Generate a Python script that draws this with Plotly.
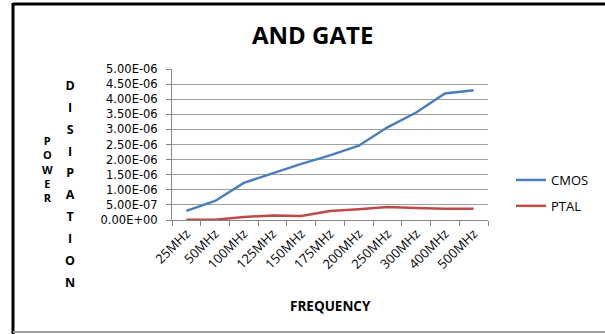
import plotly.graph_objects as go

categories = ["25MHz", "50MHz", "100MHz", "125MHz", "150MHz", "175MHz",
              "200MHz", "250MHz", "300MHz", "400MHz", "500MHz"]
cmos = [0.30e-6, 0.63e-6, 1.23e-6, 1.54e-6, 1.86e-6, 2.14e-6,
        2.46e-6, 3.07e-6, 3.56e-6, 4.19e-6, 4.30e-6]
ptal = [0.01e-6, 0.01e-6, 0.10e-6, 0.15e-6, 0.13e-6, 0.30e-6,
        0.36e-6, 0.43e-6, 0.40e-6, 0.37e-6, 0.37e-6]
y_tickvals = [0, 0.5e-6, 1.0e-6, 1.5e-6, 2.0e-6, 2.5e-6, 3.0e-6, 3.5e-6, 4.0e-6, 4.5e-6, 5.0e-6]
y_ticktext = ["0.00E+00", "5.00E-07", "1.00E-06", "1.50E-06", "2.00E-06", "2.50E-06",
              "3.00E-06", "3.50E-06", "4.00E-06", "4.50E-06", "5.00E-06"]

W, H = 605, 334
L, R, T, B = 172, 488, 69, 220
FONT = "Open Sans"

def px(x):
    return (x - L) / (R - L)

def py(y):
    return (B - y) / (B - T)

def stacked(word, size=None):
    if size is None:
        return "<br>".join("<b>%s</b>" % ch for ch in word)
    return "<br>".join('<span style="font-size:%spx"><b>%s</b></span>' % (size, ch) for ch in word)

fig = go.Figure()
fig.add_trace(go.Scatter(x=categories, y=cmos, mode="lines", name="CMOS", legendgroup="a",
                         line=dict(color="#4A7EBB", width=2.5)))
fig.add_trace(go.Scatter(x=categories, y=ptal, mode="lines", name="PTAL", legendgroup="b",
                         line=dict(color="#BE4B48", width=2.5)))

annotations = [
    dict(text="<b>AND GATE</b>", x=px(312), y=py(35), xref="paper", yref="paper",
         showarrow=False, font=dict(family=FONT, size=24, color="black"),
         xanchor="center", yanchor="middle"),
    dict(text="<b>FREQUENCY</b>", x=px(330), y=py(306), xref="paper", yref="paper",
         showarrow=False, font=dict(family=FONT, size=13.5, color="black"),
         xanchor="center", yanchor="middle"),
    dict(text=stacked("POWER"), x=px(47), y=py(169),
         xref="paper", yref="paper", showarrow=False, align="center",
         font=dict(family=FONT, size=11, color="black"),
         xanchor="center", yanchor="middle"),
    dict(text=stacked("DISIPATION", 12.5), x=px(70), y=py(184),
         xref="paper", yref="paper", showarrow=False, align="center",
         font=dict(family=FONT, size=16.8, color="black"),
         xanchor="center", yanchor="middle"),
]

shapes = [
    dict(type="line", xref="paper", yref="paper", x0=px(13), x1=px(605), y0=py(4), y1=py(4),
         line=dict(color="black", width=3)),
    dict(type="line", xref="paper", yref="paper", x0=px(13), x1=px(13), y0=py(3), y1=py(334),
         line=dict(color="black", width=3)),
    dict(type="line", xref="paper", yref="paper", x0=px(13), x1=px(605), y0=py(332), y1=py(332),
         line=dict(color="#A0A0A0", width=2)),
]

fig.update_layout(
    width=W, height=H,
    margin=dict(l=L, r=W - R, t=T, b=H - B, pad=0, autoexpand=False),
    paper_bgcolor="white", plot_bgcolor="white",
    font=dict(family=FONT, size=12, color="black"),
    showlegend=True,
    legend=dict(x=511 / W, y=1 - 165 / H, xref="container", yref="container",
                xanchor="left", yanchor="top",
                font=dict(family=FONT, size=13, color="black"),
                tracegroupgap=6, itemwidth=30, bgcolor="rgba(0,0,0,0)"),
    annotations=annotations,
    shapes=shapes,
)
fig.update_xaxes(type="category", showgrid=False, showline=True, linecolor="#868686",
                 linewidth=1, ticks="outside", tickson="boundaries", ticklen=5,
                 tickcolor="#868686", tickangle=-45, tickfont=dict(family=FONT, size=13),
                 range=[-0.5, len(categories) - 0.5], automargin=False)
fig.update_yaxes(range=[0, 5e-6], tickvals=y_tickvals, ticktext=y_ticktext,
                 showgrid=True, gridcolor="#A0A0A0", gridwidth=1,
                 showline=True, linecolor="#868686", linewidth=1,
                 ticks="outside", ticklen=5, tickcolor="#868686", ticklabelstandoff=6,
                 tickfont=dict(family="DejaVu Sans", size=11.5), zeroline=False, automargin=False)

fig.write_html("out.html", post_script="document.body.style.margin='0';",
               config={"displayModeBar": False})
